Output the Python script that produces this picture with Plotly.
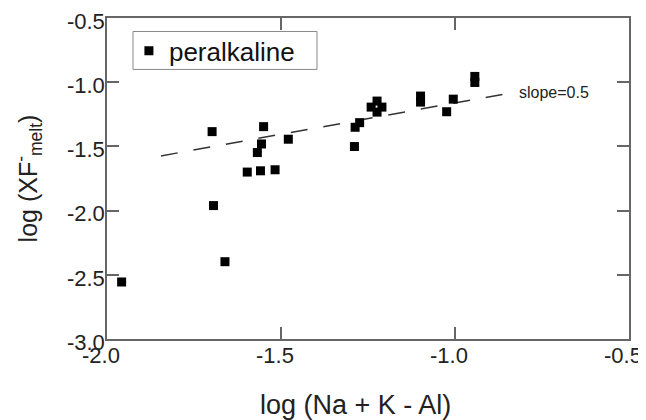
import plotly.graph_objects as go

# data
x_peralkaline = [-1.958, -1.698, -1.694, -1.661, -1.597, -1.559, -1.517, -1.568, -1.556, -1.550,
                 -1.479, -1.289, -1.287, -1.274, -1.224, -1.241, -1.210, -1.224, -1.099, -1.099,
                 -1.024, -1.005, -0.943, -0.943]
y_peralkaline = [-2.556, -1.385, -1.961, -2.398, -1.700, -1.690, -1.682, -1.548, -1.481, -1.346,
                 -1.444, -1.501, -1.351, -1.315, -1.147, -1.194, -1.194, -1.233, -1.108, -1.155,
                 -1.230, -1.132, -0.955, -1.002]

slope_line_x = [-1.845, -0.833]
slope_line_y = [-1.574, -1.080]
slope_label = "slope=0.5"

x_ticks = [-2.0, -1.5, -1.0, -0.5]
y_ticks = [-3.0, -2.5, -2.0, -1.5, -1.0, -0.5]
x_title = "log (Na + K - Al)"
y_title = "log (XF<sup>-</sup><sub>melt</sub>)"

FONT = "Liberation Sans, Arial, sans-serif"
AXCOL = "#666666"

fig = go.Figure()
fig.add_trace(go.Scatter(
    x=slope_line_x, y=slope_line_y, mode="lines",
    line=dict(color="#333333", width=1.5, dash="17px,16px"),
    showlegend=False, hoverinfo="skip"))
fig.add_trace(go.Scatter(
    x=x_peralkaline, y=y_peralkaline, mode="markers", name="peralkaline",
    marker=dict(symbol="square", size=9, color="black")))

fig.add_annotation(x=slope_line_x[1], y=slope_line_y[1], text=slope_label,
                   xanchor="left", yanchor="middle", xshift=4, showarrow=False,
                   font=dict(family=FONT, size=16, color="#222222"))

# x-axis title (slightly left of centre, as in the original)
fig.add_annotation(xref="paper", yref="paper", x=0.477, y=0, text=x_title,
                   xanchor="center", yanchor="middle", yshift=-66, showarrow=False,
                   font=dict(family=FONT, size=27, color="#222222"))

# legend frame
fig.add_shape(type="rect", xref="paper", yref="paper",
              x0=0.0498, x1=0.4023, y0=0.8398, y1=0.958,
              line=dict(color="#888888", width=1), fillcolor="rgba(0,0,0,0)", layer="below")

axis_common = dict(showline=True, linecolor=AXCOL, linewidth=1.5, mirror="ticks",
                   ticks="inside", ticklen=12, tickcolor=AXCOL, tickwidth=1.5,
                   showgrid=False, zeroline=False, automargin=False,
                   ticklabeloverflow="allow",
                   tickfont=dict(family=FONT, size=22, color="#222222"))

fig.update_xaxes(range=[-2.0, -0.5], tickvals=x_ticks, ticktext=[f"{v:.1f}" for v in x_ticks],
                 ticklabelstandoff=-4, ticklabelshift=-6, **axis_common)
fig.update_yaxes(range=[-3.0, -0.5], tickvals=y_ticks, ticktext=[f"{v:.1f}" for v in y_ticks],
                 ticklabelstandoff=-4, ticklabelshift=3,
                 title=dict(text=y_title, standoff=22,
                            font=dict(family=FONT, size=25, color="#222222")),
                 **axis_common)

fig.update_layout(
    width=638, height=412,
    margin=dict(l=99, r=17, t=10, b=81),
    plot_bgcolor="white", paper_bgcolor="white",
    legend=dict(x=0.042, y=0.9705, xanchor="left", yanchor="top",
                borderwidth=0, bgcolor="rgba(0,0,0,0)",
                font=dict(family=FONT, size=26, color="#111111"),
                itemwidth=30),
)

fig.write_html("out.html")
